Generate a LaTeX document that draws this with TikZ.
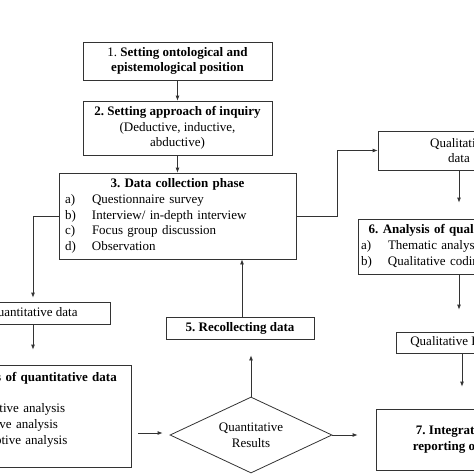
\documentclass[tikz,border=0pt]{standalone}
\usepackage{fontspec}
\setmainfont{Liberation Serif}
\usepackage{tikz}
\usetikzlibrary{shapes,arrows,positioning,calc,arrows.meta}
\frenchspacing
\newcommand{\boxitem}[2]{\makebox[27pt][l]{#1}#2}
\newcommand{\boxtitle}[1]{\makebox[\linewidth]{\textbf{#1}}}

\begin{document}
\begin{tikzpicture}[x=1pt, y=-1pt,
    font=\fontsize{13}{15.7}\selectfont,
    box/.style={draw=black!80, line width=0.8pt, rectangle, align=center, inner sep=0pt},
    listbox/.style={box, align=left, inner xsep=6pt},
    >={Latex[length=5pt,width=4pt]},
    line/.style={draw=black!80, line width=0.8pt, ->}]
    \useasboundingbox (0,0) rectangle (474,474);
    \clip (0,0) rectangle (474,474);

    \node (onto) [box, minimum width=189pt, minimum height=38pt] at (177.5,61) {1. \textbf{Setting ontological and}\\\textbf{epistemological position}};
    \node (inq) [box, minimum width=189pt, minimum height=54pt] at (177.5,128) {\textbf{2. Setting approach of inquiry}\\(Deductive, inductive,\\abductive)};
    \node (coll) [listbox, text width=225pt, minimum height=86pt] at (177.5,216) {\boxtitle{3. Data collection phase}\\\boxitem{a)}{Questionnaire survey}\\\boxitem{b)}{Interview/ in-depth interview}\\\boxitem{c)}{Focus group discussion}\\\boxitem{d)}{Observation}};
    \node (quandata) [box, minimum width=154pt, minimum height=22pt] at (33,313) {Quantitative data};
    \node (quanana) [listbox, text width=193pt, minimum height=102pt] at (28.5,416) {\boxtitle{4. Analysis of quantitative data}\\\mbox{}\\\boxitem{a)}{Descriptive analysis}\\\boxitem{b)}{Predictive analysis}\\\boxitem{c)}{Prescriptive analysis}\\\mbox{}};
    \node (quanres) [box, shape=diamond, aspect=2.1, minimum width=162pt, minimum height=76pt] at (251,435) {Quantitative\\Results};
    \node (recoll) [box, minimum width=148pt, minimum height=22pt] at (240,328) {\textbf{5. Recollecting data}};
    \node (qualdata) [box, minimum width=162pt, minimum height=39pt] at (459,150.5) {Qualitative\\data};
    \node (qualana) [listbox, inner xsep=3pt, text width=184pt, minimum height=55pt] at (453,246.5) {\boxtitle{6. Analysis of qualitative data}\\\boxitem{a)}{Thematic analysis}\\\boxitem{b)}{Qualitative coding}};
    \node (qualres) [box, minimum width=128pt, minimum height=21pt] at (460,342.5) {Qualitative Results};
    \node (integ) [box, minimum width=180pt, minimum height=61pt] at (466,439.5) {\textbf{7. Integration and}\\\textbf{reporting of results}};

    \draw[line] (onto) -- (inq);
    \draw[line] (inq) -- (coll);
    \draw[line] (coll.east) -- ++(41,0) |- (qualdata.west);
    \draw[line, shorten >=4pt] (coll.west) -| (quandata.north);
    \draw[line, shorten >=15pt] (quandata.south) -- (quandata.south |- quanana.north);
    \draw[line, shorten <=7pt, shorten >=7pt] (quanana.east |- 0,433) -- (quanres.west |- 0,433);
    \draw[line, shorten >=16pt] (quanres.north) -- (quanres.north |- recoll.south);
    \draw[line] ([xshift=2pt]recoll.north) -- ([xshift=2pt]recoll.north |- coll.south);
    \draw[line, shorten >=18pt] (quanres.east) -- (quanres.east -| integ.west);
    \draw[line, shorten >=16pt] (qualdata.south) -- (qualdata.south |- qualana.north);
    \draw[line, shorten >=22pt] (qualana.south -| qualdata) -- (qualres.north -| qualdata);
    \draw[line, shorten >=22pt] ([xshift=2pt]qualres.south) -- ([xshift=2pt]qualres.south |- integ.north);
\end{tikzpicture}
\end{document}
